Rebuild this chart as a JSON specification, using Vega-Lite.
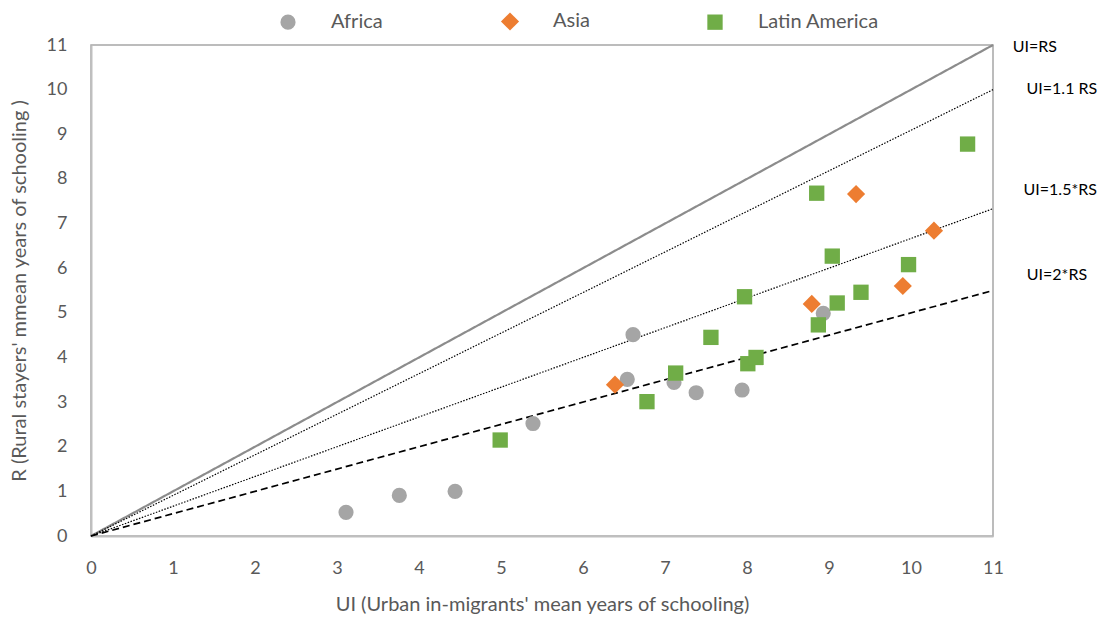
{
  "$schema": "https://vega.github.io/schema/vega-lite/v6.json",
  "width": 902,
  "height": 491,
  "autosize": {"type": "none"},
  "padding": {"left": 91, "top": 45, "right": 120, "bottom": 87},
  "background": "white",
  "config": {
    "font": "Lato",
    "view": {"stroke": "#a6a6a6", "strokeWidth": 1.5},
    "axis": {
      "grid": false,
      "ticks": false,
      "labelFlush": false,
      "domainColor": "#bfbfbf",
      "domainWidth": 2,
      "labelFont": "Lato",
      "labelFontSize": 18,
      "labelColor": "#595959",
      "titleFont": "Lato",
      "titleFontSize": 20,
      "titleFontWeight": "normal",
      "titleColor": "#595959"
    },
    "legend": {
      "labelFont": "Lato",
      "labelFontSize": 20,
      "labelColor": "#595959"
    }
  },
  "datasets": {
    "points": [
      {"region": "Africa", "ui": 3.11, "r": 0.53},
      {"region": "Africa", "ui": 3.76, "r": 0.91},
      {"region": "Africa", "ui": 4.44, "r": 1.0},
      {"region": "Africa", "ui": 5.39, "r": 2.52},
      {"region": "Africa", "ui": 6.61, "r": 4.51},
      {"region": "Africa", "ui": 6.54, "r": 3.51},
      {"region": "Africa", "ui": 7.11, "r": 3.44},
      {"region": "Africa", "ui": 7.38, "r": 3.21},
      {"region": "Africa", "ui": 7.94, "r": 3.27},
      {"region": "Africa", "ui": 8.93, "r": 4.99},
      {"region": "Asia", "ui": 6.39, "r": 3.39},
      {"region": "Asia", "ui": 8.79, "r": 5.2},
      {"region": "Asia", "ui": 9.33, "r": 7.66},
      {"region": "Asia", "ui": 9.9, "r": 5.6},
      {"region": "Asia", "ui": 10.28, "r": 6.84},
      {"region": "Latin America", "ui": 4.99, "r": 2.15},
      {"region": "Latin America", "ui": 6.78, "r": 3.01},
      {"region": "Latin America", "ui": 7.13, "r": 3.65},
      {"region": "Latin America", "ui": 7.56, "r": 4.45},
      {"region": "Latin America", "ui": 7.97, "r": 5.36},
      {"region": "Latin America", "ui": 8.01, "r": 3.86},
      {"region": "Latin America", "ui": 8.11, "r": 4.0},
      {"region": "Latin America", "ui": 8.85, "r": 7.68},
      {"region": "Latin America", "ui": 8.87, "r": 4.73},
      {"region": "Latin America", "ui": 9.04, "r": 6.27},
      {"region": "Latin America", "ui": 9.1, "r": 5.22},
      {"region": "Latin America", "ui": 9.39, "r": 5.46},
      {"region": "Latin America", "ui": 9.97, "r": 6.08},
      {"region": "Latin America", "ui": 10.69, "r": 8.78}
    ],
    "lines": [
      {"line": "UI=RS", "ui": 0, "r": 0},
      {"line": "UI=RS", "ui": 11, "r": 11},
      {"line": "UI=1.1 RS", "ui": 0, "r": 0},
      {"line": "UI=1.1 RS", "ui": 11, "r": 10},
      {"line": "UI=1.5*RS", "ui": 0, "r": 0},
      {"line": "UI=1.5*RS", "ui": 11, "r": 7.333},
      {"line": "UI=2*RS", "ui": 0, "r": 0},
      {"line": "UI=2*RS", "ui": 11, "r": 5.5}
    ],
    "labels": [
      {"label": "UI=RS", "ui": 11.51, "r": 10.95},
      {"label": "UI=1.1 RS", "ui": 11.84, "r": 10.01},
      {"label": "UI=1.5*RS", "ui": 11.82, "r": 7.75},
      {"label": "UI=2*RS", "ui": 11.78, "r": 5.85}
    ]
  },
  "resolve": {"scale": {"color": "independent", "shape": "independent", "size": "independent", "strokeDash": "independent", "strokeWidth": "independent"}, "legend": {"color": "independent"}},
  "layer": [
    {
      "data": {"name": "lines"},
      "mark": {"type": "line", "clip": false},
      "encoding": {
        "x": {"field": "ui", "type": "quantitative", "scale": {"domain": [0, 11], "nice": false, "zero": true},
              "axis": {"values": [0,1,2,3,4,5,6,7,8,9,10,11], "format": "d", "title": "UI (Urban in-migrants' mean years of schooling)", "labelPadding": 23, "titlePadding": 17}},
        "y": {"field": "r", "type": "quantitative", "scale": {"domain": [0, 11], "nice": false},
              "axis": {"values": [0,1,2,3,4,5,6,7,8,9,10,11], "format": "d", "title": "R (Rural stayers' mmean years of schooling )", "labelPadding": 24, "titlePadding": 17}},
        "detail": {"field": "line"},
        "color": {"field": "line", "type": "nominal", "legend": null,
                  "scale": {"domain": ["UI=RS", "UI=1.1 RS", "UI=1.5*RS", "UI=2*RS"], "range": ["#8c8c8c", "#000000", "#000000", "#000000"]}},
        "strokeDash": {"field": "line", "type": "nominal", "legend": null,
                  "scale": {"domain": ["UI=RS", "UI=1.1 RS", "UI=1.5*RS", "UI=2*RS"], "range": [[1, 0], [1.5, 1.5], [1.5, 1.5], [7, 4]]}},
        "strokeWidth": {"field": "line", "type": "nominal", "legend": null,
                  "scale": {"type": "ordinal", "domain": ["UI=RS", "UI=1.1 RS", "UI=1.5*RS", "UI=2*RS"], "range": [2.2, 1.2, 1.2, 1.7]}}
      }
    },
    {
      "data": {"name": "points"},
      "mark": {"type": "point", "filled": true, "opacity": 1},
      "encoding": {
        "x": {"field": "ui", "type": "quantitative"},
        "y": {"field": "r", "type": "quantitative"},
        "color": {"field": "region", "type": "nominal",
                  "scale": {"domain": ["Africa", "Asia", "Latin America"], "range": ["#a5a5a5", "#ed7d31", "#70ad47"]},
                  "legend": {"title": null, "orient": "none", "direction": "horizontal", "legendX": 187, "legendY": -34, "labelOffset": 33, "columnPadding": 114, "symbolSize": 190, "symbolOpacity": 1}},
        "shape": {"field": "region", "type": "nominal",
                  "scale": {"domain": ["Africa", "Asia", "Latin America"], "range": ["circle", "diamond", "square"]}},
        "size": {"field": "region", "type": "nominal", "legend": null,
                  "scale": {"type": "ordinal", "domain": ["Africa", "Asia", "Latin America"], "range": [230, 330, 235]}}
      }
    },
    {
      "data": {"name": "labels"},
      "mark": {"type": "text", "align": "center", "baseline": "middle", "fontSize": 16, "font": "Lato", "color": "#000000"},
      "encoding": {
        "x": {"field": "ui", "type": "quantitative"},
        "y": {"field": "r", "type": "quantitative"},
        "text": {"field": "label"}
      }
    }
  ]
}
